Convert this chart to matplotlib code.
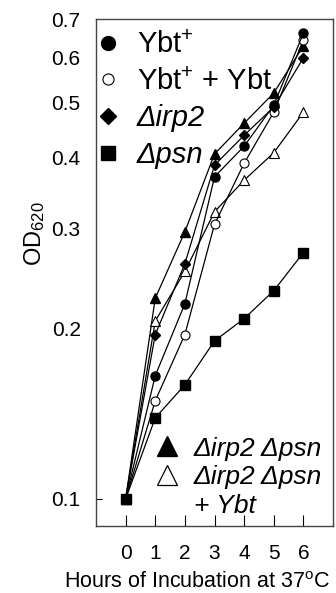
import matplotlib
matplotlib.use('Agg')
import matplotlib.pyplot as plt
from matplotlib.lines import Line2D
from matplotlib.ticker import FixedLocator, FixedFormatter

plt.rcParams['font.family'] = ['Liberation Sans', 'DejaVu Sans']
plt.rcParams['mathtext.fontset'] = 'custom'
plt.rcParams['mathtext.rm'] = 'Liberation Sans'
plt.rcParams['mathtext.it'] = 'Liberation Sans:italic'

# Data (OD620 over time)
hours = [0, 1, 2, 3, 4, 5, 6]
ybt_plus = [0.100, 0.165, 0.221, 0.370, 0.419, 0.495, 0.663]
ybt_plus_ybt = [0.100, 0.149, 0.195, 0.305, 0.391, 0.481, 0.645]
irp2 = [0.100, 0.195, 0.260, 0.388, 0.438, 0.491, 0.600]
irp2_psn = [0.100, 0.226, 0.296, 0.406, 0.460, 0.520, 0.630]
irp2_psn_ybt = [0.100, 0.206, 0.252, 0.321, 0.365, 0.408, 0.481]
psn = [0.100, 0.139, 0.159, 0.190, 0.208, 0.233, 0.272]

ytick_major = [0.1]
ytick_minor = [0.2, 0.3, 0.4, 0.5, 0.6, 0.7]

fig = plt.figure(figsize=(3.36, 5.93), dpi=100)
ax = fig.add_axes([96 / 336, 67 / 593, 237 / 336, 507 / 593])

lw = 0.9
ax.plot(hours, irp2_psn, color='k', lw=lw, marker='^', ms=6.5, mfc='k', mec='k')
ax.plot(hours, irp2_psn_ybt, color='k', lw=lw, marker='^', ms=6.5, mfc='white', mec='k', mew=0.8)
ax.plot(hours, ybt_plus_ybt, color='k', lw=lw, marker='o', ms=6.5, mfc='white', mec='k', mew=0.8)
ax.plot(hours, irp2, color='k', lw=lw, marker='D', ms=4.8, mfc='k', mec='k')
ax.plot(hours, ybt_plus, color='k', lw=lw, marker='o', ms=6.5, mfc='k', mec='k')
ax.plot(hours, psn, color='k', lw=lw, marker='s', ms=6.5, mfc='k', mec='k')

ax.set_yscale('log')
ax.set_ylim(0.0896, 0.7025)
ax.set_xlim(-1, 7)
ax.set_xticks(hours)
ax.yaxis.set_major_locator(FixedLocator(ytick_major))
ax.yaxis.set_major_formatter(FixedFormatter(['0.1']))
ax.yaxis.set_minor_locator(FixedLocator(ytick_minor))
ax.yaxis.set_minor_formatter(FixedFormatter(['0.2', '0.3', '0.4', '0.5', '0.6', '0.7']))
ax.tick_params(axis='y', which='major', direction='in', length=4, labelsize=15, pad=11)
ax.tick_params(axis='y', which='minor', length=0, labelsize=15, pad=11)
ax.tick_params(axis='x', direction='in', length=8, labelsize=15, pad=13)

for s in ax.spines.values():
    s.set_color('#444444')
    s.set_linewidth(1.0)

ax.set_ylabel('OD$_{620}$', fontsize=17)
ax.yaxis.set_label_coords(-0.205, 0.576)
ax.set_xlabel('Hours of Incubation at 37$^{\\mathregular{o}}$C', fontsize=15.5)
ax.xaxis.set_label_coords(0.426, -0.091)

h1 = [
    Line2D([], [], ls='none', marker='o', ms=10, mfc='k', mec='k'),
    Line2D([], [], ls='none', marker='o', ms=8, mfc='white', mec='k', mew=0.8),
    Line2D([], [], ls='none', marker='D', ms=8, mfc='k', mec='k'),
    Line2D([], [], ls='none', marker='s', ms=10, mfc='k', mec='k'),
]
l1 = ['Ybt$^{\\mathregular{+}}$', 'Ybt$^{\\mathregular{+}}$ + Ybt', '\u0394irp2', '\u0394psn']
leg1 = ax.legend(h1, l1, loc='upper left', bbox_to_anchor=(-0.025, 0.988), frameon=False,
                 fontsize=21, handlelength=0.8, handletextpad=0.6, labelspacing=0.3,
                 borderaxespad=0.0, borderpad=0.2)
for t in leg1.get_texts()[2:]:
    t.set_style('italic')
ax.add_artist(leg1)

h2 = [
    Line2D([], [], ls='none', marker='^', ms=14, mfc='k', mec='k'),
    Line2D([], [], ls='none', marker='^', ms=14, mfc='white', mec='k', mew=0.9),
    Line2D([], [], ls='none'),
]
l2 = ['\u0394irp2 \u0394psn', '\u0394irp2 \u0394psn', '+ Ybt']
leg2 = ax.legend(h2, l2, loc='lower right', bbox_to_anchor=(0.987, 0.0), frameon=False,
                 fontsize=19, handlelength=1.0, handletextpad=0.5, labelspacing=0.18,
                 borderaxespad=0.0, borderpad=0.3)
for t in leg2.get_texts():
    t.set_style('italic')

fig.savefig('out.png', dpi=100)
